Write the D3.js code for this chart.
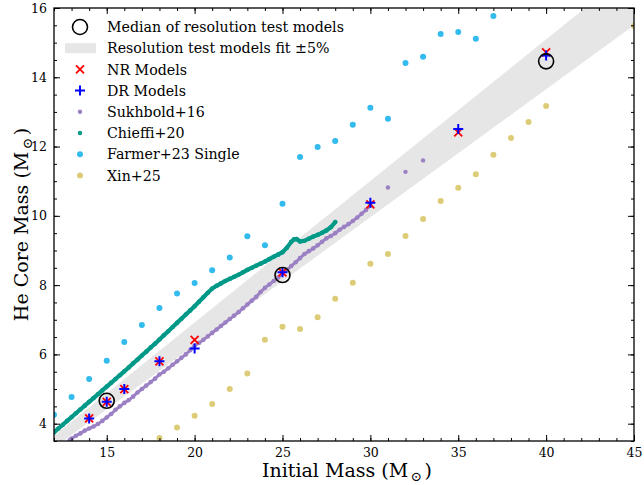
<!DOCTYPE html>
<html>
<head>
<meta charset="utf-8">
<script src="https://cdn.jsdelivr.net/npm/d3@7"></script>
<style>
  body { margin: 0; background: #fff; }
  text { font-family: "DejaVu Serif", serif; fill: #000; }
</style>
</head>
<body>
<div id="chart"></div>
<script>
// DATA
const farmerMass = [12, 13, 14, 15, 16, 17, 18, 19, 20, 21, 22, 23, 24, 25, 26, 27, 28, 29, 30, 31, 32, 33, 34, 35, 36, 37];
const farmerCore = [4.26, 4.77, 5.29, 5.82, 6.36, 6.85, 7.34, 7.76, 8.06, 8.43, 8.8, 9.41, 9.15, 10.35, 11.7, 11.99, 12.16, 12.63, 13.12, 12.8, 14.41, 14.59, 15.25, 15.31, 15.11, 15.77];

const xinMass = [18, 19, 20, 21, 22, 23, 24, 25, 26, 27, 28, 29, 30, 31, 32, 33, 34, 35, 36, 37, 38, 39, 40, 45];
const xinCore = [3.59, 3.89, 4.23, 4.57, 5.0, 5.45, 6.42, 6.8, 6.73, 7.07, 7.61, 8.07, 8.62, 8.9, 9.42, 9.91, 10.43, 10.81, 11.2, 11.76, 12.25, 12.71, 13.17, 15.48];

const nrMass = [14, 15, 16, 18, 20, 25, 30, 35, 40];
const nrCore = [4.15, 4.63, 5.0, 5.8, 6.42, 8.37, 10.33, 12.41, 14.72];
const drMass = [14, 15, 16, 18, 20, 25, 30, 35, 40];
const drCore = [4.15, 4.63, 5.0, 5.8, 6.17, 8.37, 10.38, 12.51, 14.63];

const medianMass = [15, 25, 40];
const medianCore = [4.66, 8.29, 14.46];

// resolution test fit, end points of the line (band is +-5%)
const fitMass = [12, 45];
const fitCore = [3.48, 16.32];
const fitFrac = 0.05;

const sukhMass = [12.9, 13, 13.25, 13.5, 13.75, 14, 14.25, 14.5, 14.75, 15, 15.25, 15.5, 15.75, 16, 16.25, 16.5, 16.75, 17, 17.25, 17.5, 17.75, 18, 18.25, 18.5, 18.75, 19, 19.25, 19.5, 19.75, 20, 20.25, 20.5, 20.75, 21, 21.25, 21.5, 21.75, 22, 22.25, 22.5, 22.75, 23, 23.25, 23.5, 23.75, 24, 24.25, 24.5, 24.75, 25, 25.25, 25.5, 25.75, 26, 26.25, 26.5, 26.75, 27, 27.25, 27.5, 27.75, 28, 28.25, 28.5, 28.75, 29, 29.25, 29.5, 29.75, 30];
const sukhCore = [3.53, 3.57, 3.65, 3.72, 3.8, 3.86, 3.92, 3.99, 4.08, 4.18, 4.28, 4.4, 4.5, 4.6, 4.68, 4.78, 4.9, 5.0, 5.1, 5.2, 5.3, 5.42, 5.5, 5.6, 5.7, 5.8, 5.9, 6.0, 6.12, 6.25, 6.33, 6.42, 6.52, 6.62, 6.72, 6.82, 6.92, 7.02, 7.12, 7.22, 7.33, 7.44, 7.55, 7.66, 7.8, 7.92, 8.02, 8.12, 8.22, 8.33, 8.44, 8.55, 8.66, 8.78, 8.9, 8.98, 9.06, 9.15, 9.25, 9.35, 9.42, 9.5, 9.6, 9.68, 9.76, 9.85, 9.95, 10.06, 10.17, 10.3];
const sukhSparseMass = [31, 32, 33];
const sukhSparseCore = [10.82, 11.27, 11.6];

const chieffiMass = [12, 12.25, 12.5, 12.75, 13, 13.25, 13.5, 13.75, 14, 14.25, 14.5, 14.75, 15, 15.25, 15.5, 15.75, 16, 16.25, 16.5, 16.75, 17, 17.25, 17.5, 17.75, 18, 18.25, 18.5, 18.75, 19, 19.25, 19.5, 19.75, 20, 20.25, 20.5, 20.75, 21, 21.25, 21.5, 21.75, 22, 22.25, 22.5, 22.75, 23, 23.25, 23.5, 23.75, 24, 24.25, 24.5, 24.75, 25, 25.25, 25.5, 25.65, 25.8, 26, 26.25, 26.5, 26.75, 27, 27.25, 27.5, 27.75, 28];
const chieffiCore = [3.75, 3.86, 3.97, 4.08, 4.19, 4.3, 4.41, 4.52, 4.63, 4.74, 4.85, 4.96, 5.07, 5.18, 5.29, 5.4, 5.51, 5.62, 5.74, 5.85, 5.97, 6.08, 6.2, 6.31, 6.43, 6.55, 6.67, 6.79, 6.91, 7.03, 7.15, 7.27, 7.39, 7.52, 7.65, 7.78, 7.9, 7.98, 8.05, 8.12, 8.18, 8.24, 8.3, 8.37, 8.44, 8.5, 8.56, 8.62, 8.68, 8.75, 8.82, 8.88, 8.95, 9.08, 9.25, 9.32, 9.33, 9.26, 9.28, 9.34, 9.4, 9.45, 9.51, 9.58, 9.67, 9.82];

const xTicks = [15, 20, 25, 30, 35, 40, 45];
const yTicks = [4, 6, 8, 10, 12, 14, 16];

const colors = {
  farmer: "#33bbee",
  xin: "#ddcc77",
  sukh: "#9b80c4",
  chieffi: "#009988",
  nr: "red",
  dr: "blue",
  band: "#e6e6e6",
};

const W = 644, H = 485;
const margin = { top: 8, right: 10, bottom: 44, left: 54 };

const svg = d3.select("#chart").append("svg").attr("width", W).attr("height", H);

const x = d3.scaleLinear().domain([12, 45]).range([margin.left, W - margin.right]);
const y = d3.scaleLinear().domain([3.5, 16]).range([H - margin.bottom, margin.top]);

svg.append("clipPath").attr("id", "clip")
  .append("rect")
  .attr("x", margin.left).attr("y", margin.top)
  .attr("width", W - margin.left - margin.right)
  .attr("height", H - margin.top - margin.bottom);

const plot = svg.append("g").attr("clip-path", "url(#clip)");

const zip = (a, b) => a.map((v, i) => [v, b[i]]);

// BAND
const bandArea = d3.area()
  .x((d) => x(d[0]))
  .y0((d) => y(d[1] * (1 - fitFrac)))
  .y1((d) => y(d[1] * (1 + fitFrac)));
plot.append("path")
  .attr("d", bandArea(zip(fitMass, fitCore)))
  .attr("fill", colors.band);

// dense model grids: thick line behind the dots
const line = d3.line().x((d) => x(d[0])).y((d) => y(d[1]));

function dots(data, color, r) {
  plot.append("g")
    .selectAll("circle")
    .data(data)
    .join("circle")
    .attr("cx", (d) => x(d[0]))
    .attr("cy", (d) => y(d[1]))
    .attr("r", r)
    .attr("fill", color);
}

// SUKHBOLD
plot.append("path")
  .attr("d", line(zip(sukhMass, sukhCore)))
  .attr("fill", "none")
  .attr("stroke", colors.sukh)
  .attr("stroke-width", 3)
  .attr("stroke-linecap", "round");
dots(zip(sukhMass, sukhCore), colors.sukh, 2.3);
dots(zip(sukhSparseMass, sukhSparseCore), colors.sukh, 2.2);

// CHIEFFI
plot.append("path")
  .attr("d", line(zip(chieffiMass, chieffiCore)))
  .attr("fill", "none")
  .attr("stroke", colors.chieffi)
  .attr("stroke-width", 4.2)
  .attr("stroke-linecap", "round");
dots(zip(chieffiMass, chieffiCore), colors.chieffi, 2.3);

// FARMER, XIN
dots(zip(farmerMass, farmerCore), colors.farmer, 3);
dots(zip(xinMass, xinCore), colors.xin, 3);

// NR (x) and DR (+)
const s = 4;
plot.append("g").selectAll("path")
  .data(zip(nrMass, nrCore))
  .join("path")
  .attr("d", (d) => `M${x(d[0]) - s},${y(d[1]) - s}L${x(d[0]) + s},${y(d[1]) + s}M${x(d[0]) - s},${y(d[1]) + s}L${x(d[0]) + s},${y(d[1]) - s}`)
  .attr("stroke", colors.nr)
  .attr("stroke-width", 1.8);

const p = 5;
plot.append("g").selectAll("path")
  .data(zip(drMass, drCore))
  .join("path")
  .attr("d", (d) => `M${x(d[0]) - p},${y(d[1])}H${x(d[0]) + p}M${x(d[0])},${y(d[1]) - p}V${y(d[1]) + p}`)
  .attr("stroke", colors.dr)
  .attr("stroke-width", 2);

// MEDIANS
plot.append("g").selectAll("circle")
  .data(zip(medianMass, medianCore))
  .join("circle")
  .attr("cx", (d) => x(d[0]))
  .attr("cy", (d) => y(d[1]))
  .attr("r", 7.5)
  .attr("fill", "none")
  .attr("stroke", "black")
  .attr("stroke-width", 1.6);

// AXES (ticks inward on all sides)
const minorX = d3.range(12, 46, 1);
const minorY = d3.range(3.5, 16.01, 0.5);

function styleAxis(g) {
  g.select(".domain").remove();
  g.selectAll("line").attr("stroke", "black").attr("stroke-width", 1);
  g.selectAll("text").attr("font-family", "DejaVu Serif").attr("font-size", 12.5);
}

const yBottom = H - margin.bottom, yTop = margin.top;
const xLeft = margin.left, xRight = W - margin.right;

svg.append("g").attr("transform", `translate(0,${yBottom})`)
  .call(d3.axisBottom(x).tickValues(minorX).tickSize(-3).tickFormat(""))
  .call(styleAxis);
svg.append("g").attr("transform", `translate(0,${yBottom})`)
  .call(d3.axisBottom(x).tickValues(xTicks).tickSize(-6).tickPadding(7).tickFormat(d3.format("d")))
  .call(styleAxis);
svg.append("g").attr("transform", `translate(0,${yTop})`)
  .call(d3.axisTop(x).tickValues(minorX).tickSize(-3).tickFormat(""))
  .call(styleAxis);
svg.append("g").attr("transform", `translate(0,${yTop})`)
  .call(d3.axisTop(x).tickValues(xTicks).tickSize(-6).tickFormat(""))
  .call(styleAxis);

svg.append("g").attr("transform", `translate(${xLeft},0)`)
  .call(d3.axisLeft(y).tickValues(minorY).tickSize(-3).tickFormat(""))
  .call(styleAxis);
svg.append("g").attr("transform", `translate(${xLeft},0)`)
  .call(d3.axisLeft(y).tickValues(yTicks).tickSize(-6).tickPadding(7).tickFormat(d3.format("d")))
  .call(styleAxis);
svg.append("g").attr("transform", `translate(${xRight},0)`)
  .call(d3.axisRight(y).tickValues(minorY).tickSize(-3).tickFormat(""))
  .call(styleAxis);
svg.append("g").attr("transform", `translate(${xRight},0)`)
  .call(d3.axisRight(y).tickValues(yTicks).tickSize(-6).tickFormat(""))
  .call(styleAxis);

svg.append("rect")
  .attr("x", xLeft).attr("y", yTop)
  .attr("width", xRight - xLeft).attr("height", yBottom - yTop)
  .attr("fill", "none")
  .attr("stroke", "black")
  .attr("stroke-width", 1.3);

// AXIS LABELS
function massLabel(t, txt) {
  t.append("tspan").text(txt + " (M");
  t.append("tspan").attr("font-size", "0.7em").attr("dy", "0.3em").text("\u2009\u2299\u2009");
  t.append("tspan").attr("dy", "-0.21em").text(")");
}

const xl = svg.append("text")
  .attr("x", (xLeft + xRight) / 2 + 3)
  .attr("y", 477)
  .attr("text-anchor", "middle")
  .attr("font-size", 19);
massLabel(xl, "Initial Mass");

const yl = svg.append("text")
  .attr("transform", `translate(28,${(yTop + yBottom) / 2}) rotate(-90)`)
  .attr("text-anchor", "middle")
  .attr("font-size", 19);
massLabel(yl, "He Core Mass");

// LEGEND
const legendItems = [
  { label: "Median of resolution test models", kind: "circle" },
  { label: "Resolution test models fit \u00b15%", kind: "band" },
  { label: "NR Models", kind: "x" },
  { label: "DR Models", kind: "plus" },
  { label: "Sukhbold+16", kind: "dot", color: colors.sukh, r: 2.2 },
  { label: "Chieffi+20", kind: "dot", color: colors.chieffi, r: 2.2 },
  { label: "Farmer+23 Single", kind: "dot", color: colors.farmer, r: 3 },
  { label: "Xin+25", kind: "dot", color: colors.xin, r: 3 },
];

const legend = svg.append("g").attr("transform", "translate(80,27)");
legendItems.forEach((it, i) => {
  const g = legend.append("g").attr("transform", `translate(0,${i * 21.2})`);
  if (it.kind === "circle") {
    g.append("circle").attr("r", 7.5).attr("fill", "none").attr("stroke", "black").attr("stroke-width", 1.6);
  } else if (it.kind === "band") {
    g.append("rect").attr("x", -15).attr("y", -5).attr("width", 31).attr("height", 10).attr("fill", colors.band);
  } else if (it.kind === "x") {
    g.append("path").attr("d", `M${-s},${-s}L${s},${s}M${-s},${s}L${s},${-s}`).attr("stroke", colors.nr).attr("stroke-width", 1.8);
  } else if (it.kind === "plus") {
    g.append("path").attr("d", `M${-p},0H${p}M0,${-p}V${p}`).attr("stroke", colors.dr).attr("stroke-width", 2);
  } else {
    g.append("circle").attr("r", it.r).attr("fill", it.color);
  }
  g.append("text")
    .attr("x", 27)
    .attr("dy", "0.36em")
    .attr("font-size", 14.2)
    .text(it.label);
});
</script>
</body>
</html>
